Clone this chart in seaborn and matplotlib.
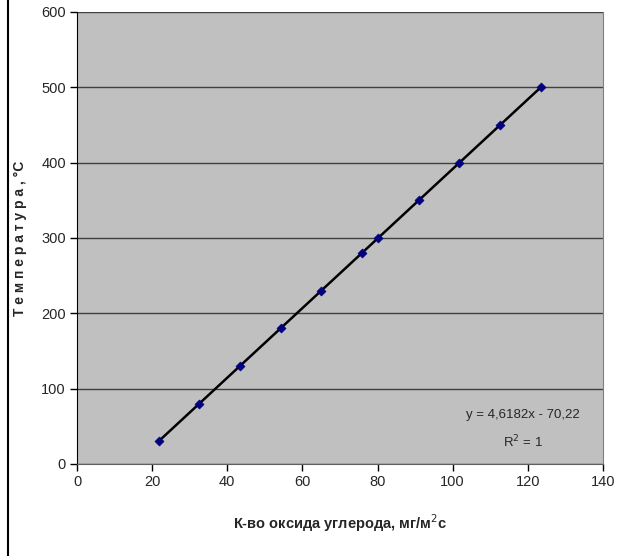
import numpy as np
import pandas as pd
import matplotlib.pyplot as plt
import seaborn as sns
from matplotlib.lines import Line2D

sns.set_style('white')
plt.rcParams['font.family'] = ['Liberation Sans', 'DejaVu Sans']

# Data
co_amount = [21.7, 32.5, 43.4, 54.2, 65.0, 75.8, 80.2, 91.0, 101.8, 112.6, 123.5]
temperature = [30, 80, 130, 180, 230, 280, 300, 350, 400, 450, 500]
x_ticks = [0, 20, 40, 60, 80, 100, 120, 140]
y_ticks = [0, 100, 200, 300, 400, 500, 600]

df = pd.DataFrame({'x': co_amount, 'y': temperature})

fig = plt.figure(figsize=(6.18, 5.56), dpi=100)
ax = fig.add_axes([0.1246, 0.1655, 0.851, 0.813])
ax.set_facecolor('#C0C0C0')

# Trendline (linear fit over data range)
sns.regplot(data=df, x='x', y='y', ax=ax, scatter=False, ci=None, truncate=True,
            line_kws={'color': 'black', 'lw': 1.8})
sns.scatterplot(data=df, x='x', y='y', ax=ax, marker='D', color='#000080',
                s=22, edgecolor='#000080', zorder=3)

ax.set_xlim(0, 140)
ax.set_ylim(0, 600)
ax.set_xticks(x_ticks)
ax.set_yticks(y_ticks)
ax.yaxis.grid(True, color='#404040', lw=1)
ax.set_axisbelow(True)
for s in ['top', 'right', 'left', 'bottom']:
    ax.spines[s].set_visible(False)
ax.spines['bottom'].set_visible(True)
ax.spines['bottom'].set_color('#606060')
ax.spines['left'].set_visible(True)
ax.spines['left'].set_color('black')
ax.spines['right'].set_visible(True)
ax.spines['right'].set_color('#808080')
ax.tick_params(axis='both', direction='out', length=5, width=1, color='black',
               labelsize=10.5, pad=3, bottom=True, left=True)

ax.set_xlabel('К-во оксида углерода, мг/м$^2$с', fontsize=10.5, fontweight='bold', labelpad=17)
ax.set_ylabel('Т е м п е р а т у р а , °С', fontsize=10, fontweight='bold', labelpad=10)

ax.text(0.848, 0.108, 'y = 4,6182x - 70,22', transform=ax.transAxes,
        ha='center', va='center', fontsize=9.5)
ax.text(0.848, 0.049, 'R$^2$ = 1', transform=ax.transAxes,
        ha='center', va='center', fontsize=9.5)

# left border line of the original frame
fig.add_artist(Line2D([8 / 618, 8 / 618], [0, 1], color='black', lw=1.5))

fig.savefig('out.png', dpi=100)
